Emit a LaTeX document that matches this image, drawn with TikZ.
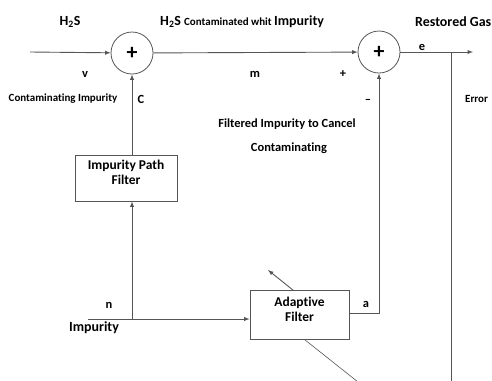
\documentclass[tikz,border=0pt]{standalone}
\usepackage{fontspec}
\setmainfont{Carlito}[Ligatures=NoCommon]
\usepackage{tikz}
\usetikzlibrary{positioning}
\usetikzlibrary{calc}
\definecolor{myline}{RGB}{85,85,85}

\begin{document}
\begin{tikzpicture}[x=1bp,y=-1bp,
    sum/.style={draw=myline, circle, line width=0.8pt, minimum size=42bp, inner sep=0pt, font=\fontsize{22}{22}\selectfont\bfseries},
    filterbox/.style={draw=myline, line width=0.8pt, align=center, text depth=11bp, font=\fontsize{13.5}{15}\selectfont\bfseries},
    lbl/.style={font=\fontsize{12.5}{14}\selectfont\bfseries},
    biglbl/.style={font=\fontsize{14}{16}\selectfont\bfseries},
    smalllbl/.style={font=\fontsize{11}{13}\selectfont\bfseries},
    wire/.style={draw=myline, line width=0.9pt},
    sig/.style={wire, -latex}]

\useasboundingbox (0,0) rectangle (492,380);

%P: summing junctions
\node[sum] (s1) at (132,53) {+};
\node[sum] (s2) at (379,52) {+};

%P: filters
\node[filterbox, minimum width=102bp, minimum height=46bp] (ipf) at (126,178) {Impurity Path\\Filter};
\node[filterbox, minimum width=99bp, minimum height=49bp] (af) at (299.5,315) {Adaptive\\Filter};

% free ends
\coordinate (in) at (30,52);
\coordinate (out) at (473,52);
\coordinate (tap) at (451,52);
\coordinate (tapend) at (451,382);
\coordinate (imp) at (88,319);
\coordinate (jn) at (132,319);
\coordinate (adj) at (268,270);
\coordinate (errend) at (358,382);

%O: labels
\node[biglbl] (lh2s) at (70,22) {H\textsubscript{2}S};
\node[anchor=west, inner sep=0pt] (lcont) at (160,22) {\fontsize{14}{16}\selectfont\bfseries H\textsubscript{2}S \fontsize{11}{16}\selectfont Contaminated whit \fontsize{14}{16}\selectfont Impurity};
\node[biglbl, anchor=west, inner sep=0pt] (lgas) at (415,22) {Restored Gas};
\node[lbl] (lv) at (85,74) {v};
\node[smalllbl] (lci) at (63,99) {Contaminating Impurity};
\node[lbl] (lc) at (141,99) {C};
\node[lbl] (lm) at (255,74) {m};
\node[lbl] (lplus) at (343,74) {+};
\node[lbl] (lminus) at (368,101) {--};
\node[lbl] (le) at (422,47) {e};
\node[smalllbl, anchor=west, inner sep=0pt] (lerr) at (465,99) {Error};
\node[lbl] (lfic) at (287,124) {Filtered Impurity to Cancel};
\node[lbl] (lfic2) at (289,148) {Contaminating};
\node[lbl] (ln) at (109,305) {n};
\node[biglbl] (limp) at (94,328) {Impurity};
\node[lbl] (la) at (366,304) {a};

% signals
\path
(in) edge[sig] (s1)
(s1) edge[sig] (s2)
(s2) edge[sig] (out)
(ipf.north -| s1) edge[sig] (s1)
(jn) edge[sig] (ipf.south -| jn)
(jn) edge[sig] (jn -| af.west)
([xshift=-6.5bp]af.north) edge[sig] (adj)
(imp) edge[wire] (jn)
(tap) edge[wire] (tapend)
([xshift=5.5bp]af.south) edge[wire, line width=0.6pt] (errend)
;
\draw[sig] (af.east |- 0,313) -| (s2.south);
\end{tikzpicture}
\end{document}
